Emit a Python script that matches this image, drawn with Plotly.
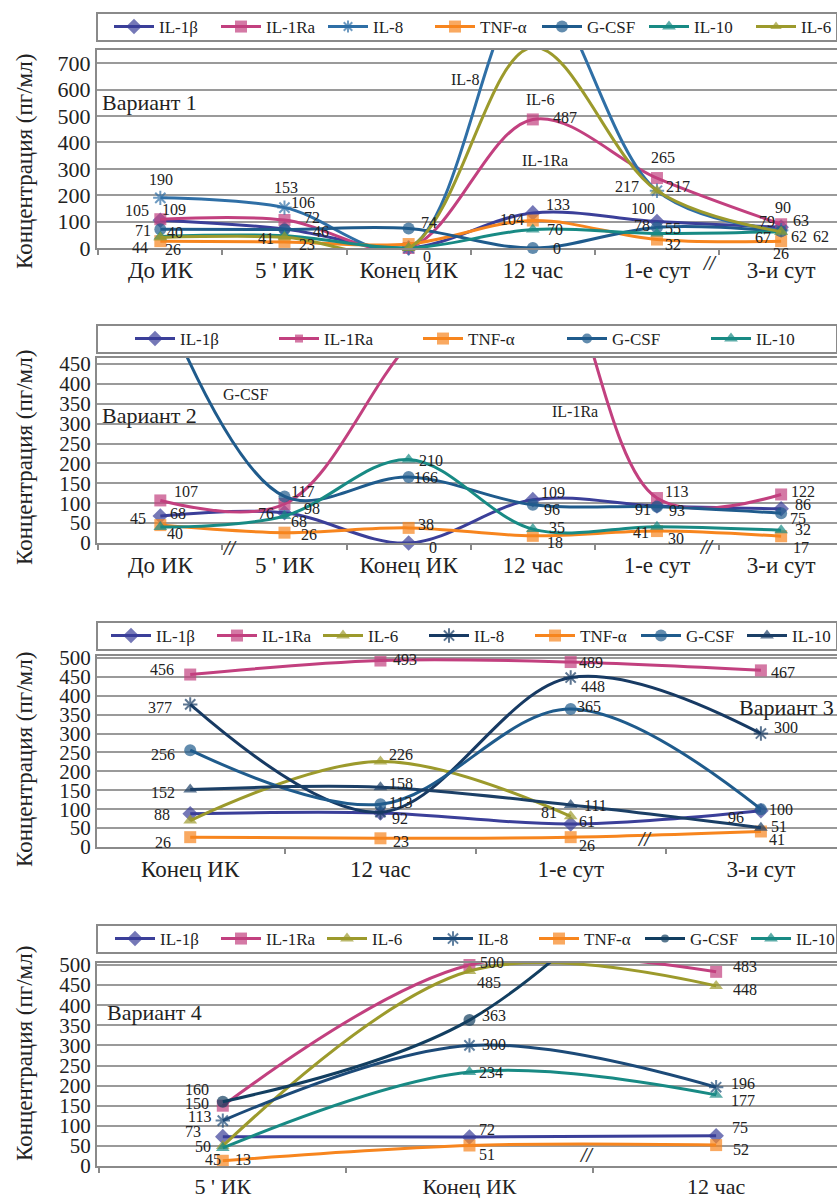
import plotly.graph_objects as go

W, H = 837, 1198
def px(x): return x / W
def py(y): return 1 - y / H

SERIF = "Liberation Serif, Times New Roman, serif"

# ---------------- data ----------------
# Variant 1
cats1 = ["До ИК", "5 ' ИК", "Конец ИК", "12 час", "1-е сут", "3-и сут"]
v1_il1b = [105, 72, 0, 133, 100, 79]
v1_il1ra = [109, 106, 0, 487, 265, 90]
v1_il8 = [190, 153, 0, 1000, 217, 67]
v1_tnf = [26, 23, 15, 104, 32, 26]
v1_gcsf = [71, 70, 74, 0, 78, 63]
v1_il10 = [44, 46, 0, 70, 55, 62]
v1_il6 = [40, 41, 0, 760, 217, 62]

# Variant 2
cats2 = ["До ИК", "5 ' ИК", "Конец ИК", "12 час", "1-е сут", "3-и сут"]
v2_il1b = [68, 76, 0, 109, 93, 86]
v2_il1ra = [107, 98, 500, 800, 113, 122]
v2_tnf = [45, 26, 38, 18, 30, 17]
v2_gcsf = [620, 117, 166, 96, 91, 75]
v2_il10 = [40, 68, 210, 35, 41, 32]

# Variant 3
cats3 = ["Конец ИК", "12 час", "1-е сут", "3-и сут"]
v3_il1b = [88, 90, 61, 96]
v3_il1ra = [456, 493, 489, 467]
v3_il6 = [70, 226, 81, None]
v3_il8 = [377, 92, 448, 300]
v3_tnf = [26, 23, 26, 41]
v3_gcsf = [256, 113, 365, 100]
v3_il10 = [152, 158, 111, 51]

# Variant 4
cats4 = ["5 ' ИК", "Конец ИК", "12 час"]
v4_il1b = [73, 72, 75]
v4_il1ra = [150, 500, 483]
v4_il6 = [50, 485, 448]
v4_il8 = [113, 300, 196]
v4_tnf = [13, 51, 52]
v4_gcsf = [160, 363, 900]
v4_il10 = [45, 234, 177]

# ---------------- styles ----------------
COL = {"IL-1β": "#3b3f99", "IL-1Ra": "#c2407f", "IL-8": "#2f6fa6", "TNF-α": "#f7851e",
       "G-CSF": "#1f5b8c", "IL-10": "#188a84", "IL-6": "#9c9a2c"}
SYM = {"IL-1β": "diamond", "IL-1Ra": "square", "IL-8": "asterisk-open", "TNF-α": "square",
       "G-CSF": "circle", "IL-10": "triangle-up", "IL-6": "triangle-up"}

# data-label pixel offsets (dx right, dy up) from each point; None = no label
panels = [
    dict(cats=cats1, yr=[0, 750], dtick=100, xr=[-0.51, 5.45], dom=(50, 248), leg=27, ew=52, lx=109,
         series=[
             ("IL-1β", v1_il1b, [(-23, 10), (28, 11), None, (25, 8), (-14, 13), (-14, 6)], None),
             ("IL-1Ra", v1_il1ra, [(14, 10), (19, 18), None, (32, 2), (6, 21), (2, 17)], None),
             ("IL-8", v1_il8, [(1, 18), (2, 20), None, None, (-30, 4), (-18, -7)], None),
             ("TNF-α", v1_tnf, [(13, -8), (23, -3), None, (-21, 1), (16, -5), (0, -12)], None),
             ("G-CSF", v1_gcsf, [(-17, -1), None, (20, 6), (24, 0), (-15, 2), (20, 11)], None),
             ("IL-10", v1_il10, [(-20, -11), (37, 4), (18, -8), (22, 0), (16, 5), (18, -5)], None),
             ("IL-6", v1_il6, [(15, 5), (-18, -1), None, None, (21, 4), (40, -5)], None),
         ]),
    dict(cats=cats2, yr=[0, 465], dtick=50, xr=[-0.51, 5.45], dom=(358, 543), leg=339, ew=89, lx=130,
         series=[
             ("IL-1β", v2_il1b, [(18, 2), (-18, -1), (24, -4), (20, 7), (20, -4), (22, 4)], None),
             ("IL-1Ra", v2_il1ra, [(26, 9), (28, -4), None, None, (20, 7), (22, 3)], None),
             ("TNF-α", v2_tnf, [(-22, 7), (25, -2), (17, 3), (22, -7), (19, -7), (20, -11)], None),
             ("G-CSF", v2_gcsf, [None, (18, 5), (17, -1), (19, -5), (-14, -3), (17, -5)], None),
             ("IL-10", v2_il10, [(15, -6), (15, -6), (22, -1), (24, 2), (-16, -6), (22, 1)], None),
         ]),
    dict(cats=cats3, yr=[0, 505], dtick=50, xr=[-0.49, 3.40], dom=(656, 847), leg=636, ew=51, lx=106,
         series=[
             ("IL-1β", v3_il1b, [(-28, -1), None, (16, 2), (-25, -7)], None),
             ("IL-1Ra", v3_il1ra, [(-28, 5), (25, 1), (20, 0), (22, -2)], None),
             ("IL-6", v3_il6, [None, (21, 7), (-22, 4), None], None),
             ("IL-8", v3_il8, [(-30, -3), (20, -6), (22, -9), (25, 6)], "#173a63"),
             ("TNF-α", v3_tnf, [(-27, -5), (21, -3), (16, -8), (16, -8)], None),
             ("G-CSF", v3_gcsf, [(-27, -4), (20, 2), (18, 2), (20, 0)], None),
             ("IL-10", v3_il10, [(-27, -3), (21, 4), (25, 0), (18, 1)], "#1b3f66"),
         ]),
    dict(cats=cats4, yr=[0, 505], dtick=50, xr=[-0.51, 2.49], dom=(963, 1166), leg=939, ew=51, lx=110,
         series=[
             ("IL-1β", v4_il1b, [(-30, 5), (18, 8), (24, 8)], None),
             ("IL-1Ra", v4_il1ra, [(-26, 2), (23, 3), (29, 5)], None),
             ("IL-6", v4_il6, [(-20, -1), (20, -11), (29, -4)], None),
             ("IL-8", v4_il8, [(-23, 4), (25, 1), (27, 4)], "#1c4a78"),
             ("TNF-α", v4_tnf, [(20, 1), (18, -9), (25, -4)], None),
             ("G-CSF", v4_gcsf, [(-26, 12), (25, 5), None], "#123e60"),
             ("IL-10", v4_il10, [(-10, -12), (22, -1), (27, -6)], None),
         ]),
]

fig = go.Figure()
layout = {}
annotations = []
shapes = []

for i, p in enumerate(panels):
    n = i + 1
    xa = "x" if n == 1 else f"x{n}"
    ya = "y" if n == 1 else f"y{n}"
    legname = "legend" if n == 1 else f"legend{n}"
    ymax = p["yr"][1]
    for name, vals, offs, ccol in p["series"]:
        color = ccol or COL[name]
        sym = SYM[name]
        msize = [0 if (v is not None and v > ymax) else 12 for v in vals]
        fig.add_trace(go.Scatter(
            x=p["cats"], y=vals, name=name, mode="lines+markers",
            xaxis=xa, yaxis=ya, legend=legname,
            line=dict(color=color, width=3, shape="spline", smoothing=1.0),
            marker=dict(symbol=sym, size=msize, color=color,
                        line=dict(color=color, width=2 if "asterisk" in sym else 0)),
            cliponaxis=False, hoverinfo="skip"))
        for c, v, o in zip(p["cats"], vals, offs):
            if o is None or v is None:
                continue
            annotations.append(dict(text=str(v), x=c, y=v, xref=xa, yref=ya, showarrow=False,
                                    xanchor="center", yanchor="middle", xshift=o[0], yshift=o[1],
                                    font=dict(family=SERIF, size=16, color="#222")))

    top, bot = p["dom"]
    layout["xaxis" if n == 1 else f"xaxis{n}"] = dict(
        domain=[px(97), 1.0], anchor=ya, type="category", range=p["xr"],
        showline=True, linecolor="#8a8a8a", linewidth=2, mirror=True,
        ticks="outside", tickson="boundaries", ticklen=5, tickcolor="#8a8a8a", tickwidth=2,
        tickfont=dict(family=SERIF, size=23 if n < 4 else 22, color="#222"),
        showgrid=False, zeroline=False)
    layout["yaxis" if n == 1 else f"yaxis{n}"] = dict(
        domain=[py(bot), py(top)], anchor=xa, range=p["yr"], dtick=p["dtick"],
        showline=True, linecolor="#8a8a8a", linewidth=2,
        showgrid=True, gridcolor="#9a9a9a", gridwidth=1.5, zeroline=False,
        ticks="", tickfont=dict(family=SERIF, size=22 if n == 1 else 21, color="#222"))
    layout[legname] = dict(
        orientation="h", x=px(p["lx"]), xanchor="left", y=py(p["leg"]), yanchor="middle",
        bgcolor="rgba(0,0,0,0)", borderwidth=0,
        font=dict(family=SERIF, size=17, color="#222"),
        entrywidthmode="pixels", entrywidth=p["ew"], itemwidth=40)
    ly = p["leg"]
    shapes.append(dict(type="rect", xref="paper", yref="paper", x0=px(97), x1=1.0,
                       y0=py(ly + 14), y1=py(ly - 14), line=dict(color="#8a8a8a", width=2),
                       fillcolor="white", layer="below"))

for yc in [162, 458, 760, 1054]:
    annotations.append(dict(text="Концентрация (пг/мл)", textangle=-90, xref="paper", yref="paper",
                            x=px(24), y=py(yc), showarrow=False, xanchor="center", yanchor="middle",
                            font=dict(family=SERIF, size=23, color="#222")))

def note(t, x, y, size=16, xanchor="center"):
    annotations.append(dict(text=t, xref="paper", yref="paper", x=px(x), y=py(y), showarrow=False,
                            xanchor=xanchor, yanchor="middle", font=dict(family=SERIF, size=size, color="#222")))

note("Вариант 1", 100, 103, 22, "left")
note("IL-8", 465, 80)
note("IL-6", 540, 99)
note("IL-1Ra", 545, 160)
note("Вариант 2", 100, 416, 22, "left")
note("G-CSF", 245, 394)
note("IL-1Ra", 575, 412)
note("Вариант 3", 836, 707, 22, "right")
note("Вариант 4", 105, 1013, 22, "left")

for bx, by in [(720, 250), (220, 548), (717, 547), (655, 852), (597, 1168)]:
    annotations.append(dict(text="<b><i>//</i></b>", xref="paper", yref="paper", x=px(bx), y=py(by),
                            showarrow=False, font=dict(family=SERIF, size=20, color="#333")))

layout.update(dict(width=W, height=H, margin=dict(l=0, r=0, t=0, b=0, autoexpand=False),
                   paper_bgcolor="white", plot_bgcolor="white",
                   annotations=annotations, shapes=shapes, hovermode=False))
fig.update_layout(**layout)
fig.write_html("out.html", config={"displayModeBar": False},
               post_script="document.body.style.margin='0px';")
